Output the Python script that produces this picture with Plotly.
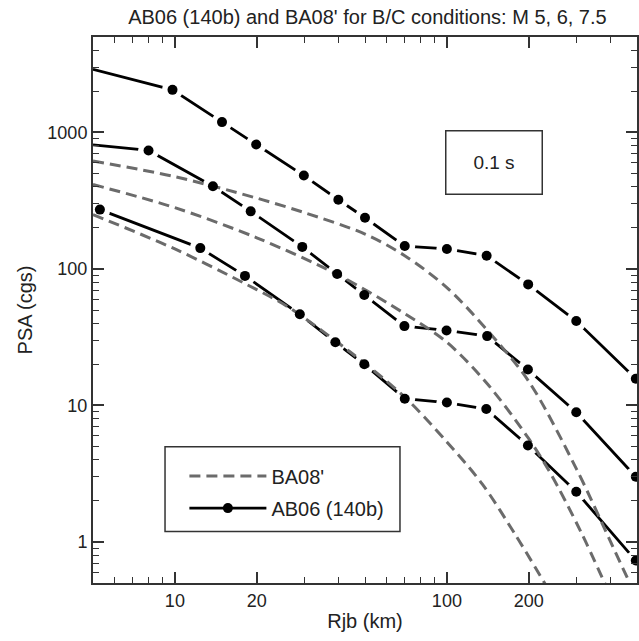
import plotly.graph_objects as go

# ---------------- data ----------------
# AB06 (140b) curves, M 7.5 / 6 / 5
ab_m75_x = [5, 9.8, 14.9, 19.9, 29.8, 39.9, 50, 70, 100, 140, 199, 299, 495]
ab_m75_y = [2900, 2050, 1190, 816, 483, 321, 237, 147, 140, 125, 77, 41.5, 15.7]
ab_m6_x = [5, 8.0, 13.8, 19.0, 29.4, 39.5, 49.7, 69.8, 99.7, 140.6, 198.6, 299, 495]
ab_m6_y = [810, 738, 403, 264, 145, 91.8, 64.4, 38.1, 35.4, 32.2, 18.3, 8.9, 3.0]
ab_m5_x = [5.3, 12.4, 18.1, 28.8, 38.9, 49.7, 70, 100, 139.6, 198.6, 299, 495]
ab_m5_y = [272, 142, 88.9, 46.5, 29, 20, 11.2, 10.5, 9.4, 5.08, 2.33, 0.73]

# BA08' curves, M 7.5 / 6 / 5
ba_m75_x = [5, 10, 20, 30, 50, 70, 100, 140, 200, 300, 400, 470]
ba_m75_y = [617, 474, 330, 258, 180, 125, 73, 36, 15, 3.4, 1.0, 0.5]
ba_m6_x = [5, 10, 20, 40, 70, 100, 140, 200, 240, 310, 382]
ba_m6_y = [415, 281, 169, 90, 47, 29, 14.6, 5.7, 3.2, 1.2, 0.49]
ba_m5_x = [5, 10, 18, 26, 44, 70, 100, 135, 178, 230]
ba_m5_y = [250, 140, 78.5, 52.8, 24.7, 11.5, 5.4, 2.65, 1.14, 0.49]

# first point of the two upper AB06 curves is where the line enters the frame (no marker)
ab_marker_hidden_first = [True, True, False]

x_major = [10, 20, 100, 200]
x_minor = [6, 7, 8, 9, 30, 40, 50, 60, 70, 80, 90, 300, 400]
y_major = [1, 10, 100, 1000]
y_minor = ([0.6, 0.7, 0.8, 0.9] + [m for m in range(2, 10)] +
           [m * 10 for m in range(2, 10)] + [m * 100 for m in range(2, 10)] +
           [2000, 3000, 4000])

title_text = "AB06 (140b) and BA08' for B/C conditions: M 5, 6, 7.5"
x_title = "Rjb (km)"
y_title = "PSA (cgs)"
period_label = "0.1 s"
legend_ba = "BA08'"
legend_ab = "AB06 (140b)"

# ---------------- figure ----------------
FONT = "Liberation Sans, Arial, sans-serif"
GRAY = "#6b6b6b"
INK = "#222222"
fig = go.Figure()

ab_sets = [(ab_m75_x, ab_m75_y), (ab_m6_x, ab_m6_y), (ab_m5_x, ab_m5_y)]
ba_sets = [(ba_m75_x, ba_m75_y), (ba_m6_x, ba_m6_y), (ba_m5_x, ba_m5_y)]

# AB06 lines with white rings at the points (give the gaps around markers)
for (xs, ys), hide in zip(ab_sets, ab_marker_hidden_first):
    sizes = [0 if (hide and i == 0) else 21 for i in range(len(xs))]
    fig.add_trace(go.Scatter(x=xs, y=ys, mode="lines+markers",
                             line=dict(color="black", width=2.8),
                             marker=dict(color="white", size=sizes, opacity=1,
                                         line=dict(width=0)),
                             showlegend=False, hoverinfo="skip"))

# BA08' dashed curves
for i, (xs, ys) in enumerate(ba_sets):
    fig.add_trace(go.Scatter(x=xs, y=ys, mode="lines",
                             line=dict(color=GRAY, width=3, dash="11px,6px",
                                       shape="spline", smoothing=0.9),
                             name=legend_ba, showlegend=(i == 0),
                             legendgroup="ba", legendrank=1))

# AB06 black markers
for (xs, ys), hide in zip(ab_sets, ab_marker_hidden_first):
    sizes = [0 if (hide and i == 0) else 10 for i in range(len(xs))]
    fig.add_trace(go.Scatter(x=xs, y=ys, mode="markers",
                             marker=dict(color="#000000", size=sizes, opacity=1,
                                         line=dict(width=0)),
                             showlegend=False))

# legend entry for AB06
fig.add_trace(go.Scatter(x=[None], y=[None], mode="lines+markers",
                         line=dict(color="black", width=2.8),
                         marker=dict(color="#000000", size=10, opacity=1),
                         name=legend_ab, legendgroup="ab", legendrank=2))

axis_common = dict(type="log", showline=True, linecolor="#333333", linewidth=2,
                   mirror="allticks", ticks="inside", tickcolor="#333333",
                   showgrid=False, zeroline=False,
                   tickfont=dict(family=FONT, size=18, color=INK))

fig.update_xaxes(**axis_common, range=[0.69897, 2.69897],
                 tickmode="array", tickvals=x_major, ticktext=[str(v) for v in x_major],
                 ticklen=11, tickwidth=1.5,
                 minor=dict(tickmode="array", tickvals=x_minor, ticklen=6,
                            tickwidth=1.2, tickcolor="#333333", ticks="inside"),
                 title=dict(text=x_title, font=dict(family=FONT, size=20, color=INK),
                            standoff=4))
fig.update_yaxes(**axis_common, range=[-0.30103, 3.69897],
                 tickmode="array", tickvals=y_major, ticktext=[str(v) for v in y_major],
                 ticklen=11, tickwidth=1.5,
                 minor=dict(tickmode="array", tickvals=y_minor, ticklen=6,
                            tickwidth=1.2, tickcolor="#333333", ticks="inside"),
                 title=dict(text=y_title, font=dict(family=FONT, size=20, color=INK),
                            standoff=9))

# period label box
fig.add_annotation(xref="paper", yref="paper", x=0.737, y=0.771,
                   text=period_label, showarrow=False,
                   font=dict(family=FONT, size=19, color=INK),
                   width=95, height=62, bordercolor="#333333", borderwidth=1.5,
                   borderpad=0, bgcolor="white", xanchor="center", yanchor="middle")

# legend frame
fig.add_shape(type="rect", xref="paper", yref="paper",
              x0=0.1324, x1=0.5643, y0=0.0942, y1=0.2497,
              line=dict(color="#333333", width=1.5), fillcolor="white", layer="above")

fig.update_layout(
    width=639, height=641, autosize=False,
    margin=dict(l=93, r=2, t=37, b=58, autoexpand=False),
    paper_bgcolor="white", plot_bgcolor="white",
    title=dict(text=title_text, x=0.575, xanchor="center", y=0.973, yanchor="middle",
               font=dict(family=FONT, size=20, color=INK)),
    legend=dict(x=0.168, y=0.2315, xanchor="left", yanchor="top",
                bgcolor="rgba(0,0,0,0)", borderwidth=0,
                font=dict(family=FONT, size=20, color=INK),
                traceorder="grouped", tracegroupgap=3, itemwidth=77),
    showlegend=True,
)

fig.write_html("out.html", config={"responsive": False, "displayModeBar": False},
               post_script="document.body.style.margin='0px';"
                           "document.body.style.padding='0px';")
